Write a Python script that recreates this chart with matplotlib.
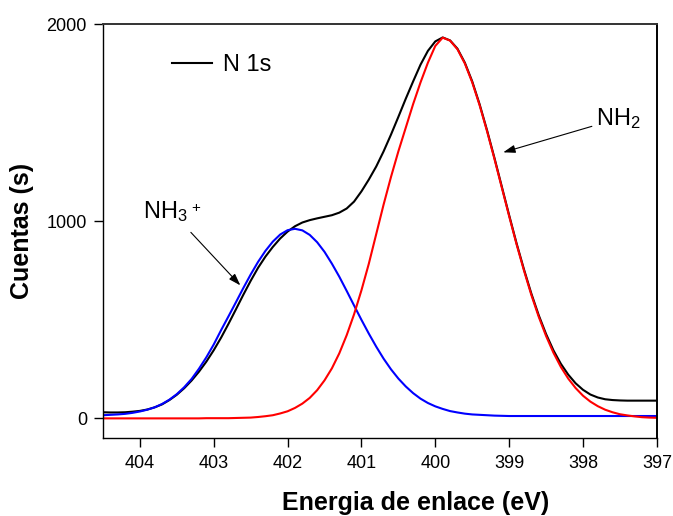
import numpy as np
import matplotlib
matplotlib.use('Agg')
from matplotlib import pyplot as plt

plt.rcParams['font.family'] = ['Liberation Sans', 'DejaVu Sans']
plt.rcParams['mathtext.fontset'] = 'custom'
plt.rcParams['mathtext.rm'] = 'Liberation Sans'

# binding energy grid, 404.5 -> 397.0 eV in 0.1 eV steps
energy = np.round(np.arange(404.5, 396.95, -0.1), 1)

# measured N 1s envelope
n1s = [31, 30, 30, 31, 34, 38, 45, 56, 71, 93,
       120, 153, 192, 237, 288, 346, 410, 480, 553, 627,
       698, 764, 821, 870, 913, 948, 975, 994, 1006, 1015,
       1023, 1031, 1044, 1065, 1100, 1152, 1212, 1278, 1355, 1440,
       1530, 1622, 1710, 1795, 1865, 1913, 1933, 1918, 1876, 1805,
       1710, 1594, 1463, 1323, 1177, 1031, 889, 757, 634, 524,
       428, 345, 277, 222, 178, 145, 121, 106, 97, 93,
       91, 90, 90, 90, 90, 90]

# NH3+ component
nh3 = [16, 18, 20, 23, 28, 35, 44, 56, 73, 95,
       123, 158, 200, 252, 310, 375, 448, 518, 589, 661,
       730, 794, 850, 897, 933, 955, 962, 954, 931, 894,
       845, 785, 719, 647, 573, 500, 430, 364, 303, 249,
       202, 162, 128, 100, 78, 61, 48, 37, 30, 24,
       20, 18, 16, 14, 13, 12, 12, 12, 12, 12,
       12, 12, 12, 12, 12, 12, 12, 12, 12, 12,
       12, 12, 12, 12, 12, 12]

# NH2 component
nh2 = [0, 0, 0, 0, 0, 0, 0, 0, 0, 0,
       0, 0, 0, 0, 1, 1, 1, 1, 2, 3,
       4, 7, 11, 16, 25, 36, 53, 75, 104, 143,
       193, 254, 330, 422, 528, 650, 785, 935, 1085, 1225,
       1355, 1475, 1595, 1705, 1805, 1890, 1932, 1917, 1873, 1801,
       1705, 1589, 1458, 1318, 1172, 1026, 884, 751, 627, 516,
       418, 333, 261, 202, 154, 115, 85, 62, 44, 31,
       21, 15, 10, 6, 4, 3]

fig = plt.figure(figsize=(6.73, 5.16), dpi=100)
ax = fig.add_axes([0.153, 0.151, 0.823, 0.802])

ax.plot(energy, n1s, color='black', lw=1.5, label='N 1s')
ax.plot(energy, nh3, color='#0000ff', lw=1.5)
ax.plot(energy, nh2, color='#ff0000', lw=1.5)

ax.set_xlim(404.5, 397)
ax.set_ylim(-100, 2000)
ax.set_xticks([404, 403, 402, 401, 400, 399, 398, 397])
ax.set_yticks([0, 1000, 2000])
ax.tick_params(axis='both', direction='out', length=6.5, width=1, labelsize=13, pad=5)
ax.tick_params(axis='x', pad=6)
for s in ax.spines.values():
    s.set_linewidth(1.0)
ax.spines['top'].set_color('#333333')
ax.spines['top'].set_linewidth(1.4)
ax.spines['right'].set_linewidth(1.4)

ax.set_xlabel('Energia de enlace (eV)', fontsize=18, fontweight='bold')
ax.xaxis.set_label_coords(0.565, -0.127)
ax.set_ylabel('Cuentas (s)', fontsize=18, fontweight='bold')
ax.yaxis.set_label_coords(-0.125, 0.5)

ax.legend(loc='center left', bbox_to_anchor=(0.1245, 0.901), frameon=False,
          fontsize=17, handlelength=1.7, handletextpad=0.45,
          borderpad=0, borderaxespad=0)

arrow = dict(arrowstyle='-|>,head_length=0.6,head_width=0.2', color='black',
             lw=0.8, mutation_scale=12, shrinkA=0, shrinkB=0)
ax.text(397.82, 1487, r'NH$\mathregular{_2}$', fontsize=17, va='baseline')
ax.annotate('', xy=(399.08, 1350), xytext=(397.88, 1482), arrowprops=arrow)
ax.text(403.96, 1015, r'NH$\mathregular{_3}$', fontsize=17, va='baseline')
ax.text(403.25, 1070, '+', fontsize=11, ha='center', va='center')
ax.annotate('', xy=(402.64, 675), xytext=(403.31, 944), arrowprops=arrow)

fig.savefig('out.png', dpi=100)
